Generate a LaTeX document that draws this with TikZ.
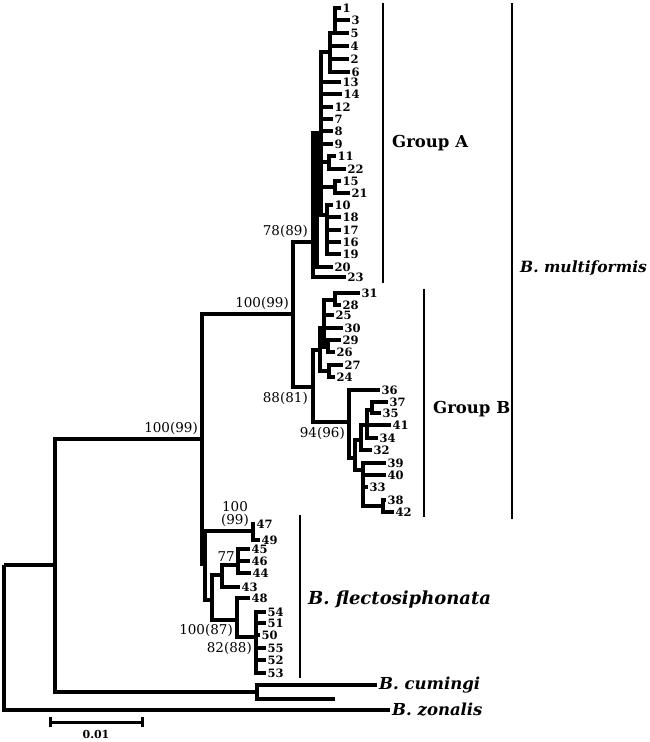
\documentclass[tikz,border=0pt]{standalone}
\usepackage{fontspec}
\setmainfont{DejaVu Serif}

\begin{document}
\begin{tikzpicture}[x=1pt,y=-1pt]
    % Define styles for branches and labels
    \tikzstyle{branch} = [line width=3.8pt, line join=miter]
    \tikzstyle{leaf} = [anchor=west, inner sep=1.5pt, font=\bfseries\fontsize{11.5}{11.5}\selectfont]
    \tikzstyle{boot} = [inner sep=1pt, font=\fontsize{13.5}{13}\selectfont]
    \tikzstyle{taxon} = [anchor=west, inner sep=2pt, font=\bfseries\itshape\fontsize{16.5}{18}\selectfont]
    \tikzstyle{group} = [anchor=west, inner sep=2pt, font=\bfseries\fontsize{16.5}{18}\selectfont]
    \tikzstyle{bar} = [line width=1.2pt]

    \useasboundingbox (0,0) rectangle (650,742);

    % Leaves, Group A
    \node[leaf] (l1) at (341,8) {1};
    \node[leaf] (l3) at (350,20) {3};
    \node[leaf] (l5) at (349,33) {5};
    \node[leaf] (l4) at (349,46) {4};
    \node[leaf] (l2) at (349,59) {2};
    \node[leaf] (l6) at (350,72) {6};
    \node[leaf] (l13) at (341,82) {13};
    \node[leaf] (l14) at (342,94) {14};
    \node[leaf] (l12) at (333,107) {12};
    \node[leaf] (l7) at (333,119) {7};
    \node[leaf] (l8) at (333,131) {8};
    \node[leaf] (l9) at (333,144) {9};
    \node[leaf] (l11) at (336,156) {11};
    \node[leaf] (l22) at (346,169) {22};
    \node[leaf] (l15) at (341,181) {15};
    \node[leaf] (l21) at (350,193) {21};
    \node[leaf] (l10) at (333,205) {10};
    \node[leaf] (l18) at (341,217) {18};
    \node[leaf] (l17) at (341,230) {17};
    \node[leaf] (l16) at (341,242) {16};
    \node[leaf] (l19) at (341,254) {19};
    \node[leaf] (l20) at (333,267) {20};
    \node[leaf] (l23) at (346,277) {23};

    % Leaves, Group B
    \node[leaf] (l31) at (360,293) {31};
    \node[leaf] (l28) at (341,305) {28};
    \node[leaf] (l25) at (334,315) {25};
    \node[leaf] (l30) at (343,328) {30};
    \node[leaf] (l29) at (341,340) {29};
    \node[leaf] (l26) at (335,352) {26};
    \node[leaf] (l27) at (343,365) {27};
    \node[leaf] (l24) at (335,377) {24};
    \node[leaf] (l36) at (380,390) {36};
    \node[leaf] (l37) at (388,402) {37};
    \node[leaf] (l35) at (381,413) {35};
    \node[leaf] (l41) at (391,425) {41};
    \node[leaf] (l34) at (378,438) {34};
    \node[leaf] (l32) at (372,450) {32};
    \node[leaf] (l39) at (386,463) {39};
    \node[leaf] (l40) at (386,475) {40};
    \node[leaf] (l33) at (368,487) {33};
    \node[leaf] (l38) at (386,500) {38};
    \node[leaf] (l42) at (394,512) {42};

    % Leaves, B. flectosiphonata
    \node[leaf] (l47) at (255,524) {47};
    \node[leaf] (l49) at (260,540) {49};
    \node[leaf] (l45) at (250,549) {45};
    \node[leaf] (l46) at (250,561) {46};
    \node[leaf] (l44) at (251,573) {44};
    \node[leaf] (l43) at (240,587) {43};
    \node[leaf] (l48) at (250,598) {48};
    \node[leaf] (l54) at (266,612) {54};
    \node[leaf] (l51) at (266,623) {51};
    \node[leaf] (l50) at (260,635) {50};
    \node[leaf] (l55) at (266,648) {55};
    \node[leaf] (l52) at (266,660) {52};
    \node[leaf] (l53) at (266,673) {53};

    % Outgroups
    \node[taxon] (cum1) at (377,685) {B. cumingi};
    \coordinate (cum2) at (335,699);
    \node[taxon] (zon) at (390,710) {B. zonalis};

    % Internal nodes
    \coordinate (A3) at (335,33);
    \coordinate (A2) at (330,52);
    \coordinate (A5) at (329,162);
    \coordinate (A6) at (335,187);
    \coordinate (A7) at (327,215);
    \coordinate (A4) at (321,133);
    \coordinate (A1) at (317,133);
    \coordinate (A0) at (313,242);
    \coordinate (B1b) at (335,300);
    \coordinate (B1c) at (328,347);
    \coordinate (B1d) at (329,371);
    \coordinate (B1a) at (324,328);
    \coordinate (B1) at (320,350);
    \coordinate (B8) at (372,410);
    \coordinate (B7) at (367,425);
    \coordinate (B4) at (361,440);
    \coordinate (B6) at (383,506);
    \coordinate (B5) at (363,470);
    \coordinate (B3) at (355,458);
    \coordinate (B2) at (349,422);
    \coordinate (B0) at (313,387);
    \coordinate (M0) at (293,314);
    \coordinate (F47) at (253,531);
    \coordinate (F77) at (238,565);
    \coordinate (F2) at (222,575);
    \coordinate (F82) at (256,637);
    \coordinate (F100) at (237,620);
    \coordinate (F1) at (212,600);
    \coordinate (F0) at (205,564);
    \coordinate (IN) at (202,439);
    \coordinate (CU) at (257,692);
    \coordinate (IG) at (55,565);
    \coordinate (R) at (4,565);

    % Branches, Group A
    \draw[branch] (A3) |- (l1); \draw[branch] (A3) |- (l3); \draw[branch] (A3) |- (l5);
    \draw[branch] (A2) |- (A3); \draw[branch] (A2) |- (l4); \draw[branch] (A2) |- (l2); \draw[branch] (A2) |- (l6);
    \draw[branch] (A5) |- (l11); \draw[branch] (A5) |- (l22);
    \draw[branch] (A6) |- (l15); \draw[branch] (A6) |- (l21);
    \draw[branch] (A7) |- (l10); \draw[branch] (A7) |- (l18); \draw[branch] (A7) |- (l17);
    \draw[branch] (A7) |- (l16); \draw[branch] (A7) |- (l19);
    \draw[branch] (A4) |- (A2); \draw[branch] (A4) |- (l13); \draw[branch] (A4) |- (l14);
    \draw[branch] (A4) |- (l12); \draw[branch] (A4) |- (l7); \draw[branch] (A4) |- (l8);
    \draw[branch] (A4) |- (l9); \draw[branch] (A4) |- (A5); \draw[branch] (A4) |- (A6);
    \draw[branch] (A4) |- (A7);
    \draw[branch] (A1) |- (A4); \draw[branch] (A1) |- (l20);
    \draw[branch] (A0) |- (A1); \draw[branch] (A0) |- (l23);

    % Branches, Group B
    \draw[branch] (B1b) |- (l31); \draw[branch] (B1b) |- (l28);
    \draw[branch] (B1c) |- (l29); \draw[branch] (B1c) |- (l26);
    \draw[branch] (B1d) |- (l27); \draw[branch] (B1d) |- (l24);
    \draw[branch] (B1a) |- (B1b); \draw[branch] (B1a) |- (l25); \draw[branch] (B1a) |- (l30);
    \draw[branch] (B1a) |- (B1c);
    \draw[branch] (B1) |- (B1a); \draw[branch] (B1) |- (B1d);
    \draw[branch] (B8) |- (l37); \draw[branch] (B8) |- (l35);
    \draw[branch] (B7) |- (B8); \draw[branch] (B7) |- (l41); \draw[branch] (B7) |- (l34);
    \draw[branch] (B4) |- (B7); \draw[branch] (B4) |- (l32);
    \draw[branch] (B6) |- (l38); \draw[branch] (B6) |- (l42);
    \draw[branch] (B5) |- (l39); \draw[branch] (B5) |- (l40); \draw[branch] (B5) |- (l33);
    \draw[branch] (B5) |- (B6);
    \draw[branch] (B3) |- (B4); \draw[branch] (B3) |- (B5);
    \draw[branch] (B2) |- (l36); \draw[branch] (B2) |- (B3);
    \draw[branch] (B0) |- (B1); \draw[branch] (B0) |- (B2);
    \draw[branch] (M0) |- (A0); \draw[branch] (M0) |- (B0);

    % Branches, B. flectosiphonata
    \draw[branch] (F47) |- (l47); \draw[branch] (F47) |- (l49);
    \draw[branch] (F77) |- (l45); \draw[branch] (F77) |- (l46); \draw[branch] (F77) |- (l44);
    \draw[branch] (F2) |- (F77); \draw[branch] (F2) |- (l43);
    \draw[branch] (F82) |- (l54); \draw[branch] (F82) |- (l51); \draw[branch] (F82) |- (l50);
    \draw[branch] (F82) |- (l55); \draw[branch] (F82) |- (l52); \draw[branch] (F82) |- (l53);
    \draw[branch] (F100) |- (l48); \draw[branch] (F100) |- (F82);
    \draw[branch] (F1) |- (F2); \draw[branch] (F1) |- (F100);
    \draw[branch] (F0) |- (F47); \draw[branch] (F0) |- (F1);

    % Branches, base of the tree
    \draw[branch] (IN) |- (M0); \draw[branch] (IN) |- (F0);
    \draw[branch] (CU) |- (cum1); \draw[branch] (CU) |- (cum2);
    \draw[branch] (IG) |- (IN); \draw[branch] (IG) |- (CU);
    \draw[branch] (R) |- (IG); \draw[branch] (R) |- (zon);

    % Bootstrap values
    \node[boot, anchor=south east] (bIN) at (199,436) {100(99)};
    \node[boot, anchor=south east] (bM0) at (290,311) {100(99)};
    \node[boot, anchor=south east] (bA0) at (309,239) {78(89)};
    \node[boot, anchor=north east] (bB0) at (309,391) {88(81)};
    \node[boot, anchor=north east] (bB2) at (346,426) {94(96)};
    \node[boot, align=center] (bF47) at (235,514) {100\\(99)};
    \node[boot, anchor=south east] (bF77) at (236,563) {77};
    \node[boot, anchor=east] (bF100) at (234,630) {100(87)};
    \node[boot, anchor=east] (bF82) at (253,648) {82(88)};

    % Clade bars and names
    \coordinate (gAt) at (383,3); \coordinate (gAb) at (383,283);
    \coordinate (gBt) at (424,289); \coordinate (gBb) at (424,517);
    \coordinate (gMt) at (512,3); \coordinate (gMb) at (512,519);
    \coordinate (gFt) at (300,515); \coordinate (gFb) at (300,678);
    \draw[bar] (gAt) -- (gAb);
    \draw[bar] (gBt) -- (gBb);
    \draw[bar] (gMt) -- (gMb);
    \draw[bar] (gFt) -- (gFb);
    \node[group] (grpA) at (390,143) {Group A};
    \node[group] (grpB) at (431,409) {Group B};
    \node[taxon, font=\bfseries\itshape\fontsize{15.5}{17}\selectfont] (mult) at (518,268) {B. multiformis};
    \node[taxon, font=\bfseries\itshape\fontsize{18}{20}\selectfont] (flec) at (306,600) {B. flectosiphonata};

    % Scale bar
    \coordinate (s0) at (50,722); \coordinate (s1) at (142,722);
    \draw[line width=3pt] (s0) -- (s1);
    \draw[line width=3pt] ([yshift=-5pt]s0) -- ([yshift=5pt]s0);
    \draw[line width=3pt] ([yshift=-5pt]s1) -- ([yshift=5pt]s1);
    \node[font=\bfseries\fontsize{11}{11}\selectfont, inner sep=1pt] (sc) at (96,734) {0.01};
\end{tikzpicture}
\end{document}
